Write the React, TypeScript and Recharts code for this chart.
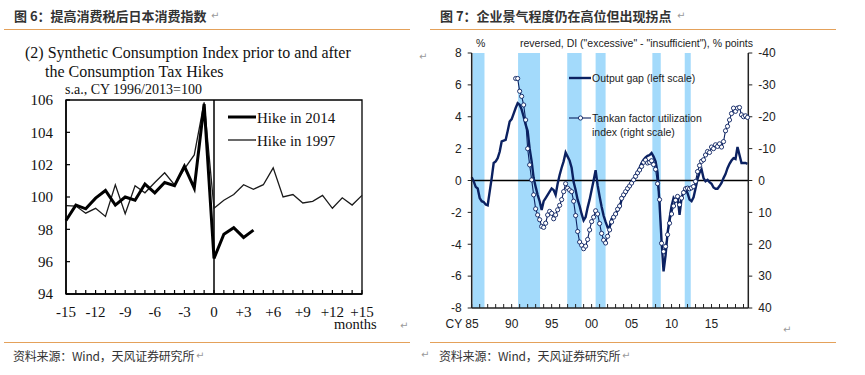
import React from "react";
import { LineChart, ComposedChart, Line, XAxis, YAxis, ReferenceLine, ReferenceArea } from "recharts";

// ---- left panel: consumption index around the tax hikes ----
const MONTHS = [-15, -14, -13, -12, -11, -10, -9, -8, -7, -6, -5, -4, -3, -2, -1, 0, 1, 2, 3, 4, 5, 6, 7, 8, 9, 10, 11, 12, 13, 14, 15];
const HIKE_2014 = [98.55, 99.5, 99.27, 99.93, 100.4, 99.5, 100, 99.8, 100.8, 100.26, 100.9, 100.7, 101.9, 100.55, 105.75, 96.2, 97.7, 98.1, 97.5, 97.95];
const HIKE_1997 = [99.47, 99.44, 99.0, 99.3, 98.8, 100.75, 98.96, 100.7, 100.26, 100.9, 101.5, 100.75, 101.74, 102.6, 105.85, 99.3, 99.8, 100.15, 100.76, 100.48, 100.76, 101.8, 100.0, 100.15, 99.63, 99.73, 100.1, 99.3, 99.95, 99.5, 100.1];
const INDEX_TICKS = [94, 96, 98, 100, 102, 104, 106];

// ---- right panel: output gap vs tankan ----
const GAP_START = 1985; // quarterly
const GAP = [
  0.2, -0.06, -0.4, -0.5,
  -1.1, -1.3, -1.35, -1.5,
  -1.55, -0.7, 0.15, 1.1,
  1.2, 1.4, 1.8, 2.45,
  2.5, 2.55, 3.1, 3.7,
  3.85, 4.2, 4.55, 4.85,
  4.75, 4.45, 4.0, 3.5,
  3.1, 2.0, 1.2, 0.15,
  -0.4, -0.9, -1.3, -1.85,
  -1.3, -1.1, -0.9, -0.7,
  -0.5, -0.6, -0.9, -0.2,
  0.35, 0.8, 1.2, 1.75,
  1.5, 1.25, 0.8, -0.1,
  -0.6, -1.2, -1.6, -2.1,
  -2.5, -2.3, -1.7, -1.2,
  -0.6, 0.0, 0.65, -0.3,
  -1.0, -1.65, -2.2, -2.6,
  -2.95, -2.9, -2.4, -2.25,
  -2.05, -1.9, -1.7, -1.2,
  -1.0, -0.8, -0.6, -0.4,
  -0.2, 0.05, 0.3, 0.57,
  0.8, 1.1, 1.3, 1.45,
  1.55, 1.6, 1.73, 1.5,
  1.2, 0.5, -1.5, -3.8,
  -5.7, -4.7, -3.3, -2.4,
  -1.6, -1.1, -1.3, -1.0,
  -2.15, -1.1, -0.7, -0.5,
  -0.8, -1.2, -1.3, -1.05,
  -0.5, 0.1, 0.5, 0.7,
  0.15, -0.05, 0.04, -0.1,
  -0.2, -0.44, -0.52, -0.52,
  -0.35, -0.15, 0.15, 0.4,
  0.77, 1.05, 1.25, 1.4,
  1.35, 2.1, 1.6, 1.1,
  1.1, 1.1, 1.05,
];
const TANKAN_START = 1990.5; // quarterly, right scale (reversed)
const TANKAN = [
  -32, -32,
  -28, -26.4, -23.7, -19,
  -10, -4.9, -0.2, 4.5,
  8.9, 10.8, 12.3, 14.4,
  14.7, 13.4, 10.8, 9.7,
  10.3, 12, 10.8, 9.2,
  7.8, 6, 3.5, 1,
  2.4, 3, 3.5, 6.5,
  11, 16, 19.3, 20.3,
  21.4, 20.6, 18.5, 15.5,
  12.9, 11.5, 9.5, 10.5,
  13.5, 16.6, 18.7, 19.6,
  17.5, 15.5, 13, 11.5,
  10.5, 9, 8, 5.6,
  4.5, 3.5, 2.5, 1.7,
  0.8, -0.2, -1.3, -2.4,
  -3.3, -4.4, -5.7, -6.4,
  -5.5, -5.7, -6.2, -5,
  -3.5, 1, 6, 19.7,
  22.3, 20.7, 17, 13.4,
  10.5, 8, 6.2, 5,
  7.6, 5.5, 3.8, 2.6,
  2.4, 2.6, 2.3, 1.9,
  0.3, -2.8, -4.7, -6,
  -6.5, -8, -9.1, -8.8,
  -10.5, -10, -11.2, -10.7,
  -11.5, -10.5, -12.2, -15.6,
  -17, -19, -21, -22.7,
  -21.7, -22.7, -22.9, -20.6,
  -20, -20.3, -19.8,
];
const RECESSION_START = [1985.1, 1990.8, 1996.95, 2000.5, 2007.6, 2011.65];
const RECESSION_END = [1986.6, 1993.55, 1998.75, 2001.75, 2008.65, 2012.4];
const YEAR_TICKS = [1985, 1986, 1987, 1988, 1989, 1990, 1991, 1992, 1993, 1994, 1995, 1996, 1997, 1998, 1999, 2000, 2001, 2002, 2003, 2004, 2005, 2006, 2007, 2008, 2009, 2010, 2011, 2012, 2013, 2014, 2015, 2016, 2017, 2018, 2019];
const LABEL_YEARS = [1985, 1990, 1995, 2000, 2005, 2010, 2015];
const LABEL_TEXTS = ["CY 85", "90", "95", "00", "05", "10", "15"];
const GAP_TICKS = [-8, -6, -4, -2, 0, 2, 4, 6, 8];
const DI_TICKS = [-40, -30, -20, -10, 0, 10, 20, 30, 40];

const NAVY = "#0b2161";
const BAND = "#a3dafb";
const ORANGE = "#e4a15a";
const SERIF = '"Liberation Serif", "Times New Roman", serif';
const SANS = '"Liberation Sans", Arial, sans-serif';
const CJK = '"Noto Sans CJK SC", sans-serif';

const indexData = MONTHS.map((m, i) => ({ m, h2014: HIKE_2014[i] ?? null, h1997: HIKE_1997[i] }));
const gapData = GAP.map((v, i) => ({ year: GAP_START + i / 4, v }));
const tankanData = TANKAN.map((v, i) => ({ year: TANKAN_START + i / 4, v }));

const Txt = ({ x, cy, size, font, children, style }: any) => (
  <div
    style={{
      position: "absolute",
      left: x,
      top: cy - size * 0.6,
      fontSize: size,
      lineHeight: `${size * 1.2}px`,
      fontFamily: font,
      whiteSpace: "nowrap",
      color: "#111",
      ...style,
    }}
  >
    {children}
  </div>
);

const Ret = ({ x, cy }: any) => (
  <Txt x={x} cy={cy} size={10} font='"DejaVu Sans", sans-serif' style={{ color: "#9a9a9a" }}>
    ↵
  </Txt>
);

const MonthTick = (props: any) => {
  const { x, y, payload } = props;
  const v = payload.value;
  return (
    <g>
      <line x1={x} x2={x} y1={y} y2={y - 4} stroke="#000" strokeWidth={1.2} />
      {v % 3 === 0 && (
        <text x={x} y={y + 23} textAnchor="middle" fontFamily={SERIF} fontSize={15} fill="#111">
          {v > 0 ? `+${v}` : String(v)}
        </text>
      )}
    </g>
  );
};

const IndexTick = (props: any) => {
  const { x, y, payload } = props;
  return (
    <g>
      <line x1={x} x2={x + 4} y1={y} y2={y} stroke="#000" strokeWidth={1.2} />
      <text x={x - 13} y={y} dy="0.35em" textAnchor="end" fontFamily={SERIF} fontSize={15} fill="#111">
        {payload.value}
      </text>
    </g>
  );
};

const YearTick = (props: any) => {
  const { x, y, payload } = props;
  const idx = LABEL_YEARS.indexOf(payload.value);
  return (
    <g>
      <line x1={x} x2={x} y1={y} y2={y - 4} stroke="#222" strokeWidth={1} />
      {idx >= 0 && (
        <text
          x={idx === 0 ? x + 7 : x}
          y={y + 20}
          textAnchor={idx === 0 ? "end" : "middle"}
          fontFamily={SANS}
          fontSize={12}
          fill="#222"
        >
          {LABEL_TEXTS[idx]}
        </text>
      )}
    </g>
  );
};

const App = () => {
  return (
    <div style={{ position: "absolute", left: 0, top: 0, width: 865, height: 375, background: "#fff", overflow: "hidden" }}>
      {/* headers */}
      <Txt x={14} cy={16} size={13} font={CJK} style={{ fontWeight: 700, color: "#333" }}>
        图 6：提高消费税后日本消费指数
      </Txt>
      <Ret x={211} cy={16} />
      <Txt x={440} cy={16} size={13} font={CJK} style={{ fontWeight: 700, color: "#333" }}>
        图 7：企业景气程度仍在高位但出现拐点
      </Txt>
      <Ret x={677} cy={16} />
      <div style={{ position: "absolute", left: 4, top: 29, width: 406, height: 1, background: ORANGE }} />
      <div style={{ position: "absolute", left: 430, top: 29, width: 406, height: 1, background: ORANGE }} />
      <div style={{ position: "absolute", left: 4, top: 342, width: 406, height: 1, background: ORANGE }} />
      <div style={{ position: "absolute", left: 430, top: 342, width: 406, height: 1, background: ORANGE }} />
      <Txt x={13} cy={356} size={12} font={CJK} style={{ color: "#333", letterSpacing: -0.2 }}>
        资料来源：Wind，天风证券研究所
      </Txt>
      <Ret x={196} cy={356} />
      <Ret x={421} cy={355} />
      <Txt x={439} cy={356} size={12} font={CJK} style={{ color: "#333", letterSpacing: -0.2 }}>
        资料来源：Wind，天风证券研究所
      </Txt>
      <Ret x={622} cy={356} />
      <Ret x={419} cy={57} />
      <Ret x={400} cy={326} />
      <Ret x={783} cy={330} />

      {/* left chart */}
      <div style={{ position: "absolute", left: 0, top: 0 }}>
        <LineChart width={420} height={340} data={indexData} margin={{ top: 100, right: 58, left: 16, bottom: 16 }}>
          <ReferenceArea x1={-15} x2={15} y1={94} y2={106} fill="none" stroke="#000" strokeWidth={1.3} />
          <XAxis
            dataKey="m"
            type="number"
            domain={[-15, 15]}
            ticks={MONTHS}
            interval={0}
            height={30}
            tickSize={0}
            tickMargin={0}
            tickLine={false}
            axisLine={{ stroke: "#000", strokeWidth: 1.5 }}
            tick={<MonthTick />}
          />
          <YAxis
            domain={[94, 106]}
            ticks={INDEX_TICKS}
            interval={0}
            width={50}
            tickSize={0}
            tickMargin={0}
            tickLine={false}
            axisLine={{ stroke: "#000", strokeWidth: 1.5 }}
            tick={<IndexTick />}
          />
          <ReferenceLine x={0} stroke="#000" strokeWidth={1.5} />
          <Line dataKey="h1997" stroke="#1a1a1a" strokeWidth={1.3} dot={false} isAnimationActive={false} />
          <Line dataKey="h2014" stroke="#000" strokeWidth={3} dot={false} isAnimationActive={false} />
        </LineChart>
      </div>
      <Txt x={25} cy={53} size={16} font={SERIF}>
        (2) Synthetic Consumption Index prior to and after
      </Txt>
      <Txt x={45} cy={72} size={16} font={SERIF}>
        the Consumption Tax Hikes
      </Txt>
      <Txt x={65} cy={90} size={14} font={SERIF}>
        s.a., CY 1996/2013=100
      </Txt>
      <Txt x={334} cy={325} size={14.5} font={SERIF}>
        months
      </Txt>
      <svg style={{ position: "absolute", left: 226, top: 110 }} width={32} height={40}>
        <line x1={2} x2={30} y1={7} y2={7} stroke="#000" strokeWidth={3} />
        <line x1={2} x2={30} y1={30} y2={30} stroke="#1a1a1a" strokeWidth={1.3} />
      </svg>
      <Txt x={257} cy={118} size={15} font={SERIF}>
        Hike in 2014
      </Txt>
      <Txt x={257} cy={141} size={15} font={SERIF}>
        Hike in 1997
      </Txt>

      {/* right chart */}
      <div style={{ position: "absolute", left: 430, top: 0 }}>
        <ComposedChart width={435} height={340} margin={{ top: 53, right: 76.7, left: 11.7, bottom: 7 }}>
          {RECESSION_START.map((s, i) => (
            <ReferenceArea
              key={i}
              yAxisId="left"
              x1={s}
              x2={RECESSION_END[i]}
              y1={-8}
              y2={8}
              fill={BAND}
              fillOpacity={1}
              stroke="none"
            />
          ))}
          <XAxis
            dataKey="year"
            type="number"
            domain={[1985, 2019.6]}
            ticks={YEAR_TICKS}
            interval={0}
            height={25}
            tickSize={0}
            tickMargin={0}
            tickLine={false}
            axisLine={{ stroke: "#222", strokeWidth: 1.5 }}
            tick={<YearTick />}
            allowDuplicatedCategory={false}
          />
          <YAxis
            yAxisId="left"
            domain={[-8, 8]}
            ticks={GAP_TICKS}
            interval={0}
            width={30}
            tickSize={4}
            tickMargin={6}
            axisLine={{ stroke: "#222", strokeWidth: 1.5 }}
            tickLine={{ stroke: "#222" }}
            tick={{ fontFamily: SANS, fontSize: 12, fill: "#222" }}
          />
          <YAxis
            yAxisId="right"
            orientation="right"
            reversed
            domain={[-40, 40]}
            ticks={DI_TICKS}
            interval={0}
            width={40}
            tickSize={4}
            tickMargin={6}
            axisLine={{ stroke: "#222", strokeWidth: 1.5 }}
            tickLine={{ stroke: "#222" }}
            tick={{ fontFamily: SANS, fontSize: 12, fill: "#222" }}
          />
          <ReferenceLine yAxisId="left" y={0} stroke="#000" strokeWidth={1.3} />
          <Line
            data={tankanData}
            yAxisId="right"
            dataKey="v"
            stroke={NAVY}
            strokeWidth={1.1}
            dot={{ r: 2.1, stroke: NAVY, strokeWidth: 0.9, fill: "#fff" }}
            isAnimationActive={false}
          />
          <Line
            data={gapData}
            yAxisId="left"
            dataKey="v"
            stroke={NAVY}
            strokeWidth={2.4}
            dot={false}
            isAnimationActive={false}
          />
        </ComposedChart>
      </div>
      <Txt x={476} cy={43} size={10.5} font={SANS} style={{ color: "#222" }}>
        %
      </Txt>
      <Txt x={520} cy={43} size={10.5} font={SANS} style={{ color: "#222" }}>
        reversed, DI ("excessive" - "insufficient"), % points
      </Txt>
      <svg style={{ position: "absolute", left: 568, top: 72 }} width={24} height={52}>
        <line x1={1} x2={23} y1={6} y2={6} stroke={NAVY} strokeWidth={2.4} />
        <line x1={1} x2={23} y1={46} y2={46} stroke={NAVY} strokeWidth={1.1} />
        <circle cx={12.5} cy={46} r={2.1} stroke={NAVY} strokeWidth={0.9} fill="#fff" />
      </svg>
      <Txt x={592} cy={78} size={10.5} font={SANS} style={{ color: "#222" }}>
        Output gap (left scale)
      </Txt>
      <Txt x={592} cy={118} size={10.5} font={SANS} style={{ color: "#222" }}>
        Tankan factor utilization
      </Txt>
      <Txt x={592} cy={132} size={10.5} font={SANS} style={{ color: "#222" }}>
        index (right scale)
      </Txt>
    </div>
  );
};

export default App;
